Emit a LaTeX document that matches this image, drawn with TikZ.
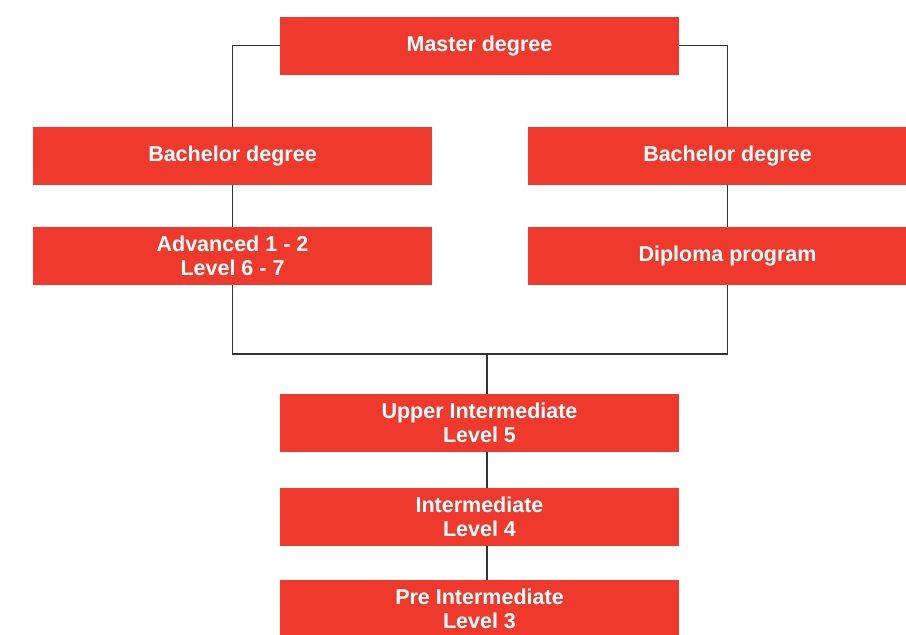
\documentclass[tikz,border=0pt]{standalone}
\usepackage{fontspec}
\setmainfont{Liberation Sans}
\definecolor{boxred}{RGB}{239,57,44}
\definecolor{linegray}{RGB}{51,51,51}
\begin{document}
\begin{tikzpicture}[x=1pt,y=-1pt, box/.style={fill=boxred,text=white,minimum width=399pt,minimum height=58pt,inner sep=0pt,align=center,font=\bfseries\fontsize{21.5}{23.5}\selectfont}, link/.style={draw=linegray,line width=1.5pt}]
  \clip (0,0) rectangle (906,635);
  \fill[white] (0,0) rectangle (906,635);
    \node [box] (m) at (479.5,45.5) {Master degree};
  \node [box] (bl) at (232.5,156) {Bachelor degree};
  \node [box] (br) at (727.5,156) {Bachelor degree};
  \node [box] (al) at (232.5,256) {Advanced 1 - 2\\Level 6 - 7};
  \node [box] (dr) at (727.5,256) {Diploma program};
  \node [box] (ui) at (479.5,423) {Upper Intermediate\\Level 5};
  \node [box] (im) at (479.5,517) {Intermediate\\Level 4};
  \node [box] (pi) at (479.5,609) {Pre Intermediate\\Level 3};
  \coordinate (j) at (487,354);
    \draw [link] (m.west) -| (bl.north);
  \draw [link] (m.east) -| (br.north);
  \draw [link] (bl) -- (al);
  \draw [link] (br) -- (dr);
  \draw [link] (al.south) |- (j) -| (dr.south);
  \draw [link] (j) -- (j |- ui.north);
  \draw [link] (j |- ui.south) -- (j |- im.north);
  \draw [link] (j |- im.south) -- (j |- pi.north);
\end{tikzpicture}
\end{document}
